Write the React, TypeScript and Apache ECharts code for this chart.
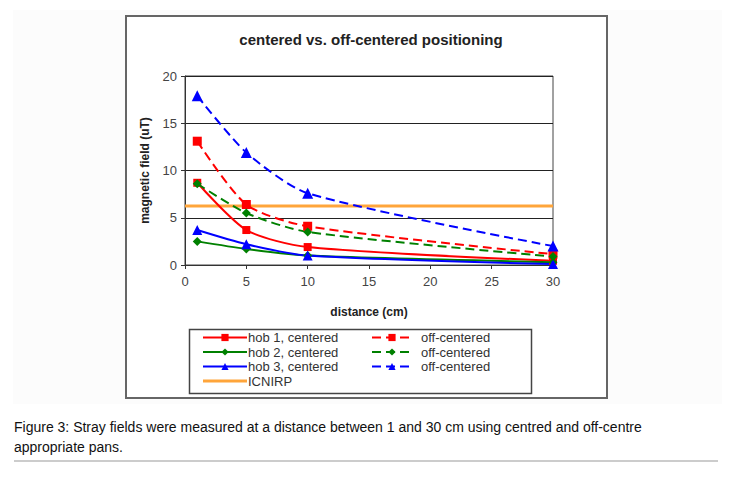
import React, { useEffect, useRef } from "react";
import * as echarts from "echarts";

const distances = [1, 5, 10, 30];
const hob1Centered = [8.7, 3.7, 1.9, 0.45];
const hob1Off = [13.1, 6.4, 4.1, 1.15];
const hob2Centered = [2.5, 1.7, 1.0, 0.3];
const hob2Off = [8.6, 5.5, 3.5, 0.9];
const hob3Centered = [3.7, 2.2, 1.0, 0.1];
const hob3Off = [17.9, 11.9, 7.6, 2.0];
const icnirpLevel = 6.25;
const icnirpRange = [0, 30];

const FONT = "Liberation Sans, Arial, sans-serif";

function pts(vals: number[]) {
  return distances.map((d, i) => [d, vals[i]]);
}

function lineSeries(name: string, vals: number[], color: string, symbol: string, size: number, dashed: boolean) {
  return {
    name,
    type: "line",
    data: pts(vals),
    smooth: 0.25,
    symbol,
    symbolSize: size,
    itemStyle: { color },
    lineStyle: { color, width: 2, type: dashed ? [9, 5] : "solid" },
    z: dashed ? 4 : 3,
  };
}

export default function App() {
  const ref = useRef<HTMLDivElement>(null);
  useEffect(() => {
    if (!ref.current) return;
    const chart = echarts.init(ref.current, null, { renderer: "svg" });
    const legendFmt = (n: string) => (n.indexOf("off-centered") >= 0 ? "off-centered" : n);
    const legendCommon = {
      orient: "vertical",
      itemWidth: 44,
      itemHeight: 9,
      itemGap: 1.5,
      padding: 0,
      formatter: legendFmt,
      textStyle: { fontFamily: FONT, fontSize: 13, color: "#333", lineHeight: 13, padding: [0, 0, 0, -4] },
    };
    chart.setOption({
      animation: false,
      backgroundColor: "#ffffff",
      title: {
        text: "centered vs. off-centered positioning",
        left: 366,
        top: 27,
        textAlign: "center",
        textStyle: { fontFamily: FONT, fontSize: 15, fontWeight: "bold", color: "#222" },
      },
      grid: {
        left: 185,
        right: 181,
        top: 76,
        bottom: 214,
        show: true,
        borderColor: "#444",
        borderWidth: 1,
        backgroundColor: "transparent",
      },
      xAxis: {
        type: "value",
        min: 0,
        max: 30,
        interval: 5,
        name: "distance (cm)",
        nameLocation: "middle",
        nameGap: 41,
        nameTextStyle: { fontFamily: FONT, fontSize: 12, fontWeight: "bold", color: "#222" },
        axisLine: { lineStyle: { color: "#333", width: 1 } },
        axisTick: { show: true, length: 4, lineStyle: { color: "#333" } },
        axisLabel: { fontFamily: FONT, fontSize: 13, color: "#444", margin: 10 },
        splitLine: { show: false },
      },
      yAxis: {
        type: "value",
        min: 0,
        max: 20,
        interval: 5,
        name: "magnetic field (uT)",
        nameLocation: "middle",
        nameGap: 34,
        nameTextStyle: { fontFamily: FONT, fontSize: 12, fontWeight: "bold", color: "#222" },
        axisLine: { show: true, lineStyle: { color: "#333", width: 1 } },
        axisTick: { show: true, length: 4, lineStyle: { color: "#333" } },
        axisLabel: { fontFamily: FONT, fontSize: 13, color: "#444", margin: 8 },
        splitLine: { show: true, lineStyle: { color: "#222", width: 1 } },
      },
      legend: [
        {
          ...legendCommon,
          left: 202,
          top: 331,
          data: [
            "hob 1, centered",
            "hob 2, centered",
            "hob 3, centered",
            { name: "ICNIRP", icon: "path://M0,0L44,0L44,3L0,3Z" },
          ],
        },
        {
          ...legendCommon,
          left: 371,
          top: 331,
          itemWidth: 40,
          textStyle: { ...legendCommon.textStyle, padding: [0, 0, 0, 4] },
          data: ["hob 1, off-centered", "hob 2, off-centered", "hob 3, off-centered"],
        },
      ],
      series: [
        {
          name: "ICNIRP",
          type: "line",
          data: icnirpRange.map((x) => [x, icnirpLevel]),
          symbol: "none",
          itemStyle: { color: "#ffa53a" },
          lineStyle: { color: "#ffa53a", width: 3 },
          z: 2,
        },
        lineSeries("hob 1, centered", hob1Centered, "#ff0000", "rect", 8, false),
        lineSeries("hob 2, centered", hob2Centered, "#008000", "diamond", 9, false),
        lineSeries("hob 3, centered", hob3Centered, "#0000ff", "triangle", 10, false),
        lineSeries("hob 1, off-centered", hob1Off, "#ff0000", "rect", 9, true),
        lineSeries("hob 2, off-centered", hob2Off, "#008000", "diamond", 9, true),
        lineSeries("hob 3, off-centered", hob3Off, "#0000ff", "triangle", 11, true),
      ],
      graphic: [
        {
          type: "rect",
          shape: { x: 13, y: 10, width: 709, height: 394 },
          style: { fill: "#fcfcfc" },
          z: -10,
          silent: true,
        },
        {
          type: "rect",
          shape: { x: 126, y: 16, width: 481, height: 382 },
          style: { fill: "#ffffff", stroke: "#666", lineWidth: 2 },
          z: -9,
          silent: true,
        },
        {
          type: "rect",
          shape: { x: 189.5, y: 329.5, width: 342, height: 64 },
          style: { fill: "none", stroke: "#444", lineWidth: 1.5 },
          silent: true,
        },
        {
          type: "text",
          x: 14,
          y: 417,
          style: {
            text: "Figure 3: Stray fields were measured at a distance between 1 and 30 cm using centred and off-centre\nappropriate pans.",
            fontFamily: FONT,
            fontSize: 14,
            lineHeight: 20,
            fill: "#111",
          },
          silent: true,
        },
        {
          type: "rect",
          shape: { x: 14, y: 460, width: 704, height: 2 },
          style: { fill: "#cccccc" },
          silent: true,
        },
      ],
    });
    return () => chart.dispose();
  }, []);
  return (
    <div
      ref={ref}
      style={{ position: "fixed", left: 0, top: 0, width: 734, height: 479 }}
    />
  );
}
